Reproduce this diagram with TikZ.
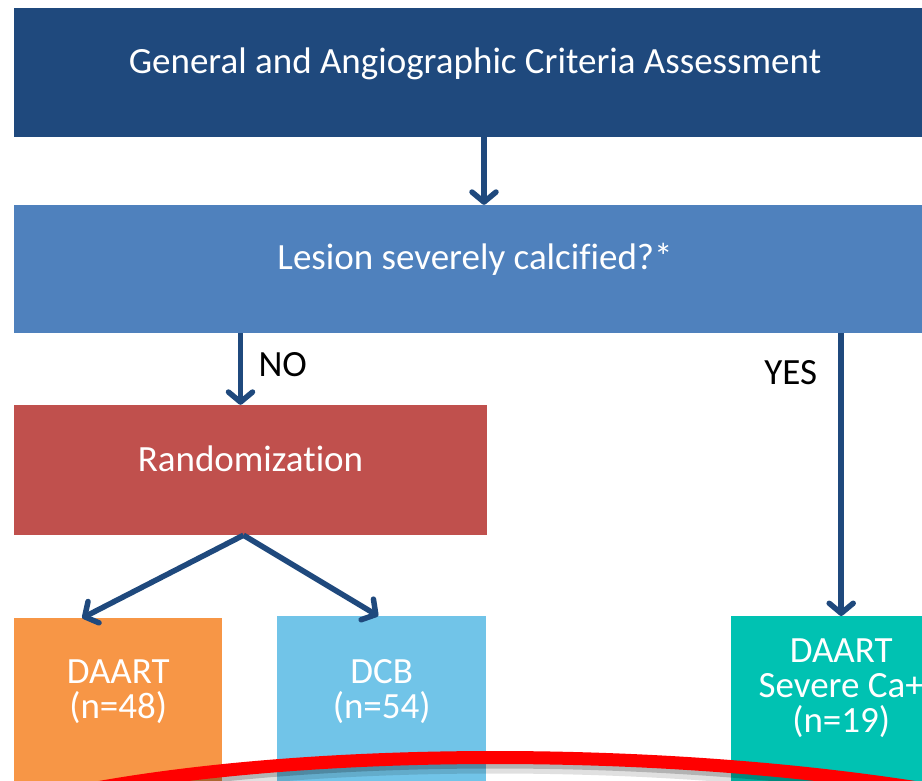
\documentclass[tikz,border=0pt]{standalone}
\usepackage{fontspec}
\setmainfont{Carlito}[Ligatures=NoCommon]
\usetikzlibrary{arrows.meta,positioning}

\definecolor{bleufonce}{HTML}{1F497D}
\definecolor{bleumoyen}{HTML}{4F81BD}
\definecolor{rougebloc}{HTML}{C0504D}
\definecolor{orangebloc}{HTML}{F79646}
\definecolor{bleuclair}{HTML}{71C4E8}
\definecolor{turquoise}{HTML}{00C2B2}

\begin{document}
\begin{tikzpicture}[
    x=1pt, y=-1pt,
    >={Straight Barb[length=10pt,width=24pt,line cap=round,line join=round]},
    bloc/.style={
        rectangle,
        inner sep=0pt,
        text=white,
        font=\fontsize{37}{35}\selectfont
    },
    ligne/.style={
        text height=#1,
        text depth=0.4em
    },
    ligne/.default=0.45em,
    texte/.style={
        inner sep=0pt,
        align=center,
        text=white,
        font=\fontsize{37}{35}\selectfont
    },
    fleche/.style={
        ->,
        draw=bleufonce,
        line width=5.5pt
    },
    etiquette/.style={
        font=\fontsize{37}{35}\selectfont
    }
]
\useasboundingbox (0,0) rectangle (922,780);
\clip (0,0) rectangle (922,780);

% Criteria and question
\node[bloc, ligne=0.6em, fill=bleufonce, minimum width=922pt, minimum height=129pt]
    (crit) at (475,72.5) {General and Angiographic Criteria Assessment};
\node[bloc, ligne, fill=bleumoyen, minimum width=922pt, minimum height=128pt]
    (calc) at (475,269) {Lesion severely calcified?*};

% Randomization
\node[bloc, ligne=0.6em, fill=rougebloc, minimum width=473pt, minimum height=130pt]
    (rand) at (250.5,470) {Randomization};

% Treatment arms
\node[bloc, fill=orangebloc, anchor=north west, minimum width=208pt, minimum height=190pt]
    (daart) at (14,618) {};
\node[bloc, fill=bleuclair, anchor=north west, minimum width=209pt, minimum height=190pt]
    (dcb) at (277,616) {};
\node[bloc, fill=turquoise, anchor=north west, minimum width=220pt, minimum height=190pt]
    (sev) at (731,616) {};

\node[texte, below=42pt of daart.north] (daarttxt) {DAART\\(n=48)};
\node[texte, below=43pt of dcb.north] (dcbtxt) {DCB\\(n=54)};
\node[texte, below=23pt of sev.north] (sevtxt) {DAART\\Severe Ca+\\(n=19)};

% Connectors
\coordinate (noend) at ([xshift=-10pt]rand.north);
\coordinate (depart) at ([xshift=-7pt]rand.south);

\draw[fleche] ([xshift=9pt]crit.south) -- ([xshift=9pt]calc.north);
\draw[fleche] (calc.south -| noend) -- node[etiquette, right=12pt, pos=0.436] {NO} (noend);
\draw[fleche] (calc.south -| sev.north) -- node[etiquette, left=18pt, pos=0.138] {YES} (sev.north);
\draw[fleche] (depart) -- ([xshift=-36pt]daart.north);
\draw[fleche] (depart) -- ([xshift=-3.5pt]dcb.north);

% Red arc
\draw[line width=16pt, black, opacity=0.12] (60,803) .. controls (300,753) and (680,753) .. (960,803);
\draw[line width=12pt, black, opacity=0.2] (60,800) .. controls (300,750) and (680,750) .. (960,800);
\draw[line width=13pt, red] (60,795) .. controls (300,745) and (680,745) .. (960,795);

\end{tikzpicture}
\end{document}
